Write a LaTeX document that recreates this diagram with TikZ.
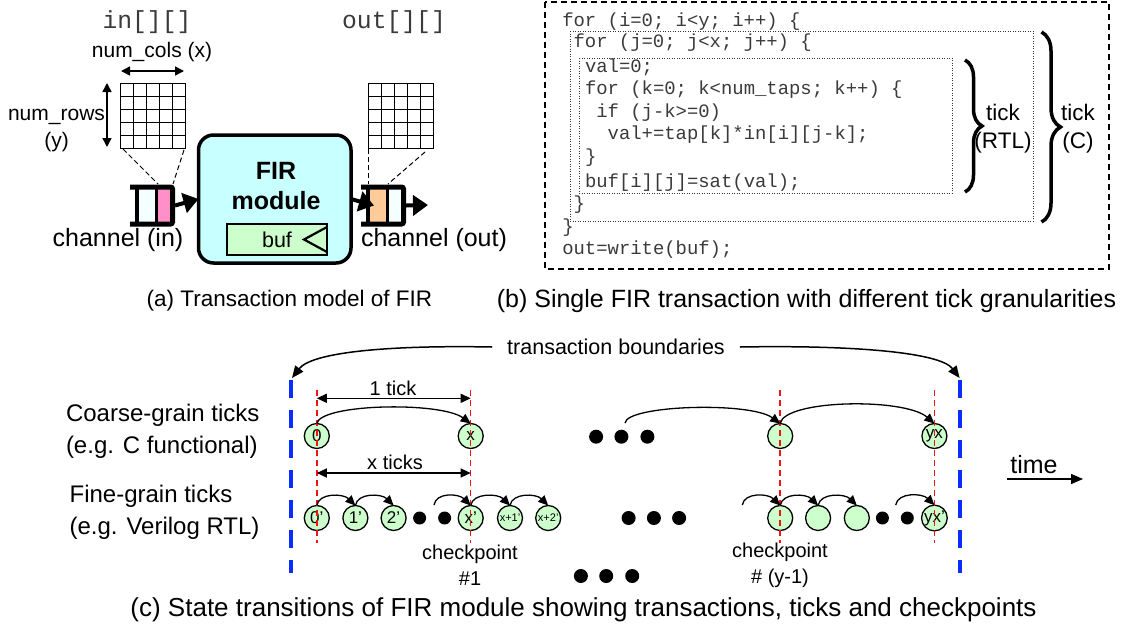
\documentclass[tikz,border=0pt]{standalone}
\usepackage{fontspec}
\setmainfont{Liberation Sans}
\newfontfamily\codefont{Liberation Mono}
\usetikzlibrary{arrows.meta,decorations.pathreplacing}

\definecolor{firfill}{HTML}{C8FFFF}
\definecolor{buffill}{HTML}{CCFFCC}
\definecolor{statefill}{HTML}{CCFFCC}
\definecolor{cellpink}{HTML}{FF8FC8}
\definecolor{cellorange}{HTML}{FFCC99}
\definecolor{cellwhite}{HTML}{F4FFFF}
\definecolor{bndblue}{HTML}{0A2EFF}
\definecolor{ckred}{HTML}{F01515}
\definecolor{codeink}{HTML}{3A3A3A}

% channel (FIFO) icon: two cells between thick rails
\tikzset{
  pics/queue/.style 2 args={code={
    \fill[#1] (8,189) rectangle (25,222);
    \fill[#2] (28,189) rectangle (40,222);
    \draw[line width=5pt, rounded corners=2pt] (0,187) -- (42.5,187) -- (42.5,224) -- (0,224);
    \draw[line width=3.5pt] (7,187) -- (7,224);
    \draw[line width=3pt] (26.5,187) -- (26.5,224);
  }}
}

\begin{document}
\begin{tikzpicture}[x=1pt, y=-1pt,
  every node/.style={inner sep=0pt, outer sep=0pt},
  gridbox/.style={draw, line width=0.9pt, fill=white, minimum width=65pt, minimum height=65pt},
  gridline/.style={line width=0.9pt},
  dimarrow/.style={line width=1.5pt, {Triangle[length=9pt,width=9pt]}-{Triangle[length=9pt,width=9pt]}},
  funnel/.style={line width=1pt, dash pattern=on 5pt off 3pt},
  qarrow/.style={line width=4pt, -{Triangle[length=15pt,width=20pt]}},
  firbox/.style={draw, line width=3.5pt, rounded corners=15pt, fill=firfill, minimum width=152.5pt, minimum height=128pt},
  bufbox/.style={draw, line width=2.5pt, fill=buffill, minimum width=100pt, minimum height=31pt},
  chanbox/.style={minimum width=45pt, minimum height=37pt},
  lbl/.style={font=\fontsize{25}{30}\selectfont},
  small/.style={font=\fontsize{21}{27}\selectfont, align=center},
  arrname/.style={font=\codefont\fontsize{24.7}{28}\selectfont, text=codeink},
  code/.style={font=\codefont\fontsize{18.9}{22}\selectfont, text=codeink, anchor=west, text height=13pt, text depth=4pt},
  codebox/.style={line width=1.3pt, dash pattern=on 6pt off 4pt},
  loopbox/.style={line width=0.9pt, dash pattern=on 1pt off 1.5pt, draw=black!80},
  brc/.style={line width=3.5pt, decorate, decoration={brace, amplitude=#1}},
  ticklbl/.style={font=\fontsize{22.5}{28}\selectfont, align=center},
  caption/.style={font=\fontsize{#1}{#1}\selectfont},
  rowlbl/.style={font=\fontsize{24}{32}\selectfont, align=left, anchor=west},
  state/.style={circle, draw, line width=1.3pt, fill=statefill, minimum size=25pt, font=\fontsize{17}{18}\selectfont},
  tinystate/.style={state, font=\fontsize{11}{12}\selectfont},
  dot/.style={circle, fill=black, minimum size=14pt},
  sdot/.style={circle, fill=black, minimum size=13pt},
  tickarc/.style={line width=1.3pt, -{Triangle[length=10pt,width=9pt]}},
  span/.style={line width=1.3pt, {Triangle[length=10pt,width=9pt]}-{Triangle[length=10pt,width=9pt]}},
  ckline/.style={draw=ckred, line width=1.5pt, dash pattern=on 6pt off 4pt},
  bnd/.style={draw=bndblue, line width=4pt, dash pattern=on 18pt off 12pt},
  bndarrow/.style={line width=1.5pt, -{Triangle[length=12pt,width=10pt]}},
  note/.style={font=\fontsize{20}{26}\selectfont, align=center}
]
\useasboundingbox (0,0) rectangle (1126,630);

% ================= (a) transaction model =================
\node[arrname] (inarr) at (147,22) {in[][]};
\node[arrname] (outarr) at (394,22) {out[][]};

\node[gridbox] (gin) at (152.5,115.5) {};
\node[gridbox] (gout) at (400.8,115.5) {};
\foreach \i in {1,...,4} {
  \draw[gridline] (120+13*\i,83) -- (120+13*\i,148);
  \draw[gridline] (120,83+13*\i) -- (185,83+13*\i);
  \draw[gridline] (368.3+13*\i,83) -- (368.3+13*\i,148);
  \draw[gridline] (368.3,83+13*\i) -- (433.3,83+13*\i);
}

\node[small] (cols) at (152,52) {num\_cols (x)};
\draw[dimarrow] (121,71) -- (184,71);
\node[small] (rows) at (56.5,131) {num\_rows\\(y)};
\draw[dimarrow] (107,83) -- (107,147);

\node[firbox] (fir) at (274.75,199) {};
\node[font=\bfseries\fontsize{25}{30}\selectfont, align=center] (firlbl) at (276,186) {FIR\\module};
\node[bufbox, font=\fontsize{21.5}{24}\selectfont] (buf) at (277,239.5) {buf};
\draw[line width=2.2pt] ([yshift=-3pt]buf.north east) -- ([xshift=-23pt]buf.east) -- ([yshift=3pt]buf.south east);

\pic at (130,0) {queue={cellwhite}{cellpink}};
\pic at (361,0) {queue={cellorange}{cellwhite}};
\node[chanbox] (chin) at (152.5,205.5) {};
\node[chanbox] (chout) at (383.5,205.5) {};
\coordinate (outend) at (428,205);

\draw[funnel] (123,149) -- (158,184);
\draw[funnel] (184,150) -- (173,184);
\draw[funnel] (368.5,149) -- (368.5,184);
\draw[funnel] (425,152) -- (388,184);

\draw[qarrow] (chin.east) -- (fir.west);
\draw[qarrow] (fir.east) -- ([xshift=13pt]chout.west);
\draw[qarrow] (chout.east) -- (outend);

\node[lbl] (chinlbl) at (118,240) {channel (in)};
\node[lbl] (choutlbl) at (434,240) {channel (out)};

\node[caption=22.5] (capa) at (289.5,301) {(a) Transaction model of FIR};

% ================= (b) single transaction =================
\draw[codebox] (545,2) rectangle (1109,269);
\draw[loopbox] (570,31) rectangle (1033,221);
\draw[loopbox] (579,58) rectangle (952,193);

\node[code] (l1) at (562.3,21.7) {for (i=0; i<y; i++) \{};
\node[code] (l2) at (573.6,43.3) {for (j=0; j<x; j++) \{};
\node[code] (l3) at (585.0,68.3) {val=0;};
\node[code] (l4) at (585.0,90) {for (k=0; k<num\_taps; k++) \{};
\node[code] (l5) at (596.3,113.3) {if (j-k>=0)};
\node[code] (l6) at (607.7,135) {val+=tap[k]*in[i][j-k];};
\node[code] (l7) at (585.0,158.3) {\}};
\node[code] (l8) at (585.0,182.7) {buf[i][j]=sat(val);};
\node[code] (l9) at (573.6,205) {\}};
\node[code] (l10) at (562.3,228.3) {\}};
\node[code] (l11) at (562.3,250) {out=write(buf);};

\draw[brc=17pt] (965,60) -- (965,192);
\node[ticklbl] (rtl) at (1003,129) {tick\\(RTL)};
\draw[brc=19pt] (1041.5,32) -- (1041.5,222);
\node[ticklbl] (ctick) at (1078,129) {tick\\(C)};

\node[caption=25] (capb) at (806.5,301) {(b) Single FIR transaction with different tick granularities};

% ================= (c) state transitions =================
\node[font=\fontsize{21.5}{24}\selectfont, inner xsep=15pt] (tb) at (616,347) {transaction boundaries};
\coordinate (bl) at (292,378);
\coordinate (br) at (959.6,378);
\draw[bndarrow] (tb.west) .. controls (390,345) and (312,352) .. (bl);
\draw[bndarrow] (tb.east) .. controls (850,345) and (940,352) .. (br);
\draw[bnd] (291,380) -- (291,573);
\draw[bnd] (959.6,380) -- (959.6,573);

\node[rowlbl] (coarse) at (66,431) {Coarse-grain ticks\\(e.g. C functional)};
\node[rowlbl] (fine) at (69.6,512.5) {Fine-grain ticks\\(e.g. Verilog RTL)};

% coarse-grain states
\node[state] (c0) at (316.8,436) {0};
\node[state] (cx) at (470.7,436) {x};
\node[dot] (cd1) at (596.1,436.7) {};
\node[dot] (cd2) at (621.4,436.7) {};
\node[dot] (cd3) at (647.4,436.7) {};
\node[state] (cm) at (780.2,436) {};
\node[state] (cyx) at (934.4,436) {yx};

% fine-grain states
\node[state] (f0) at (316.8,518) {0'};
\node[state] (f1) at (355.4,518) {1'};
\node[state] (f2) at (393.6,518) {2'};
\node[sdot] (fd1) at (419.6,518) {};
\node[sdot] (fd2) at (444.6,518) {};
\node[state] (fx) at (470.7,518) {x'};
\node[tinystate] (fx1) at (510,518) {x+1'};
\node[tinystate] (fx2) at (548.2,518) {x+2'};
\node[dot] (md1) at (628.6,518) {};
\node[dot] (md2) at (653.9,518) {};
\node[dot] (md3) at (679.1,518) {};
\node[state] (g0) at (780.2,518) {};
\node[state] (g1) at (818.1,518) {};
\node[state] (g2) at (856.8,518) {};
\node[sdot] (gd1) at (882.4,518) {};
\node[sdot] (gd2) at (907.3,518) {};
\node[state] (gyx) at (934.4,518) {yx'};

\node[dot] (bd1) at (580.9,576) {};
\node[dot] (bd2) at (606.2,576) {};
\node[dot] (bd3) at (632.2,576) {};

% checkpoint markers
\draw[ckline] (316.8,390) -- (316.8,543);
\draw[ckline] (470.7,390) -- (470.7,543);
\draw[ckline] (780.2,390) -- (780.2,543);
\draw[ckline] (934.4,390) -- (934.4,543);

% tick spans
\node[note] (onetick) at (393,388) {1 tick};
\draw[span] (316.8,398.3) -- (470.7,398.3);
\node[note] (xticks) at (395,462) {x ticks};
\draw[span] (316.8,473) -- (470.7,473);

% coarse transitions
\coordinate (cs) at (625,423);
\draw[tickarc] (c0.north) .. controls +(4,-20) and +(-30,-22) .. (cx.north);
\draw[tickarc] (cs) .. controls +(2,-18) and +(-30,-22) .. (cm.north);
\draw[tickarc] (cm.north) .. controls +(4,-24) and +(-30,-26) .. (cyx.north);

% fine transitions
\coordinate (fs) at (434,505);
\coordinate (gs) at (742.3,505);
\coordinate (hs) at (895.7,505);
\draw[tickarc] (f0.north) .. controls +(2,-13) and +(-12,-12) .. (f1.north);
\draw[tickarc] (f1.north) .. controls +(2,-13) and +(-12,-12) .. (f2.north);
\draw[tickarc] (fs) .. controls +(2,-13) and +(-12,-12) .. (fx.north);
\draw[tickarc] (fx.north) .. controls +(2,-13) and +(-12,-12) .. (fx1.north);
\draw[tickarc] (fx1.north) .. controls +(2,-13) and +(-12,-12) .. (fx2.north);
\draw[tickarc] (gs) .. controls +(2,-13) and +(-12,-12) .. (g0.north);
\draw[tickarc] (g0.north) .. controls +(2,-13) and +(-12,-12) .. (g1.north);
\draw[tickarc] (g1.north) .. controls +(2,-13) and +(-12,-12) .. (g2.north);
\draw[tickarc] (hs) .. controls +(2,-13) and +(-12,-12) .. (gyx.north);

\node[note] (ck1) at (470,565) {checkpoint\\\#1};
\node[note] (ck2) at (780,565) {checkpoint\\\# (y-1)};

\node[font=\fontsize{25}{28}\selectfont] (time) at (1034,465) {time};
\coordinate (t0) at (1007,479);
\coordinate (t1) at (1083,479);
\draw[bndarrow] (t0) -- (t1);

\node[caption=26] (capc) at (583.5,610) {(c) State transitions of FIR module showing transactions, ticks and checkpoints};
\end{tikzpicture}
\end{document}
